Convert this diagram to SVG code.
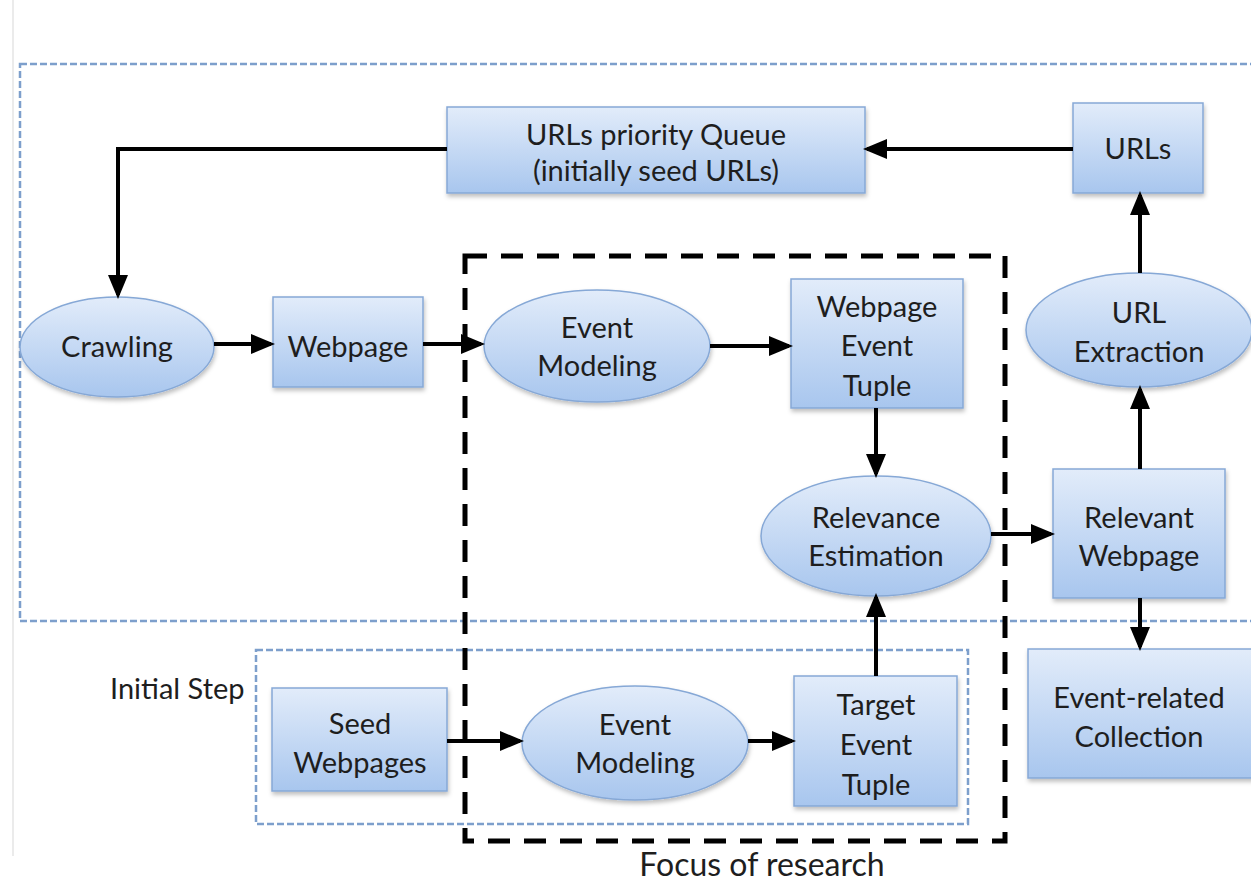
<svg xmlns="http://www.w3.org/2000/svg" width="1251" height="882" viewBox="0 0 1251 882">
  <defs>
    <linearGradient id="boxFill" x1="0" y1="0" x2="0" y2="1">
      <stop offset="0" stop-color="#e2ecfa"/>
      <stop offset="1" stop-color="#a8c6ee"/>
    </linearGradient>
    <filter id="shadow" x="-10%" y="-10%" width="125%" height="130%">
      <feDropShadow dx="1" dy="3" stdDeviation="2" flood-color="#000" flood-opacity="0.25"/>
    </filter>
    <marker id="arrow" markerWidth="6" markerHeight="6" refX="5" refY="3" orient="auto" markerUnits="strokeWidth">
      <path d="M0,0.5 L6,3 L0,5.5 z" fill="#000"/>
    </marker>
    <style>
      .node { fill: url(#boxFill); stroke: #86a8d6; stroke-width: 1.5; filter: url(#shadow); }
      .label { font-family: Lato, "Liberation Sans", sans-serif; font-size: 29px; fill: #1e1e1e; text-anchor: middle; }
      .plain { font-family: Lato, "Liberation Sans", sans-serif; fill: #1e1e1e; }
      .conn { stroke: #000; stroke-width: 4; fill: none; marker-end: url(#arrow); }
      .frame { fill: none; stroke: #7d9fcc; stroke-width: 2.5; stroke-dasharray: 7 3; }
      .focus { fill: none; stroke: #000; stroke-width: 5; stroke-dasharray: 22 14; }
    </style>
  </defs>

  <rect width="1251" height="882" fill="#fff"/>
  <line x1="13" y1="0" x2="13" y2="856" stroke="#e4e4e4" stroke-width="1.5"/>

  <!-- frames -->
  <g id="frames">
    <rect class="frame" x="20" y="64" width="1250" height="557"/>
    <rect class="frame" x="256" y="650" width="712" height="174"/>
    <text class="plain" x="110" y="699" font-size="29">Initial Step</text>
  </g>

  <!-- nodes -->
  <g id="queue">
    <rect class="node" x="447" y="107" width="418" height="86"/>
    <text class="label" x="656" y="145">URLs priority Queue</text>
    <text class="label" x="656" y="181">(initially seed URLs)</text>
  </g>
  <g id="urls">
    <rect class="node" x="1073" y="103" width="130" height="90"/>
    <text class="label" x="1138" y="159">URLs</text>
  </g>
  <g id="crawling">
    <ellipse class="node" cx="117" cy="347" rx="97" ry="50"/>
    <text class="label" x="117" y="357">Crawling</text>
  </g>
  <g id="webpage">
    <rect class="node" x="273" y="297" width="150" height="90"/>
    <text class="label" x="348" y="357">Webpage</text>
  </g>
  <g id="event-modeling">
    <ellipse class="node" cx="597" cy="346" rx="113" ry="56"/>
    <text class="label" x="597" y="338">Event</text>
    <text class="label" x="597" y="376">Modeling</text>
  </g>
  <g id="webpage-event-tuple">
    <rect class="node" x="791" y="279" width="172" height="129"/>
    <text class="label" x="877" y="317">Webpage</text>
    <text class="label" x="877" y="356">Event</text>
    <text class="label" x="877" y="396">Tuple</text>
  </g>
  <g id="url-extraction">
    <ellipse class="node" cx="1139" cy="330" rx="113" ry="57"/>
    <text class="label" x="1139" y="323">URL</text>
    <text class="label" x="1139" y="362">Extraction</text>
  </g>
  <g id="relevance-estimation">
    <ellipse class="node" cx="876" cy="536" rx="115" ry="60"/>
    <text class="label" x="876" y="528">Relevance</text>
    <text class="label" x="876" y="566">Estimation</text>
  </g>
  <g id="relevant-webpage">
    <rect class="node" x="1053" y="469" width="172" height="129"/>
    <text class="label" x="1139" y="528">Relevant</text>
    <text class="label" x="1139" y="566">Webpage</text>
  </g>
  <g id="event-related-collection">
    <rect class="node" x="1028" y="649" width="230" height="129"/>
    <text class="label" x="1139" y="708">Event-related</text>
    <text class="label" x="1139" y="747">Collection</text>
  </g>
  <g id="seed-webpages">
    <rect class="node" x="272" y="688" width="175" height="103"/>
    <text class="label" x="360" y="734">Seed</text>
    <text class="label" x="360" y="773">Webpages</text>
  </g>
  <g id="event-modeling-initial">
    <ellipse class="node" cx="635" cy="743" rx="113" ry="57"/>
    <text class="label" x="635" y="735">Event</text>
    <text class="label" x="635" y="773">Modeling</text>
  </g>
  <g id="target-event-tuple">
    <rect class="node" x="794" y="676" width="163" height="130"/>
    <text class="label" x="876" y="715">Target</text>
    <text class="label" x="876" y="755">Event</text>
    <text class="label" x="876" y="795">Tuple</text>
  </g>

  <!-- connectors -->
  <g id="connectors">
    <line class="conn" x1="1073" y1="149" x2="867" y2="149"/>
    <polyline class="conn" points="447,149 118,149 118,295"/>
    <line class="conn" x1="214" y1="344" x2="271" y2="344"/>
    <line class="conn" x1="423" y1="344" x2="481" y2="344"/>
    <line class="conn" x1="710" y1="346" x2="789" y2="346"/>
    <line class="conn" x1="876" y1="408" x2="876" y2="474"/>
    <line class="conn" x1="991" y1="534" x2="1051" y2="534"/>
    <line class="conn" x1="1140" y1="469" x2="1140" y2="389"/>
    <line class="conn" x1="1140" y1="273" x2="1140" y2="195"/>
    <line class="conn" x1="1140" y1="598" x2="1140" y2="647"/>
    <line class="conn" x1="447" y1="741" x2="520" y2="741"/>
    <line class="conn" x1="748" y1="741" x2="792" y2="741"/>
    <line class="conn" x1="876" y1="676" x2="876" y2="597"/>
  </g>

  <!-- research focus -->
  <g id="focus">
    <rect class="focus" x="465" y="256" width="540" height="585"/>
    <text class="plain" x="762" y="876" font-size="32" text-anchor="middle">Focus of research</text>
  </g>
</svg>
